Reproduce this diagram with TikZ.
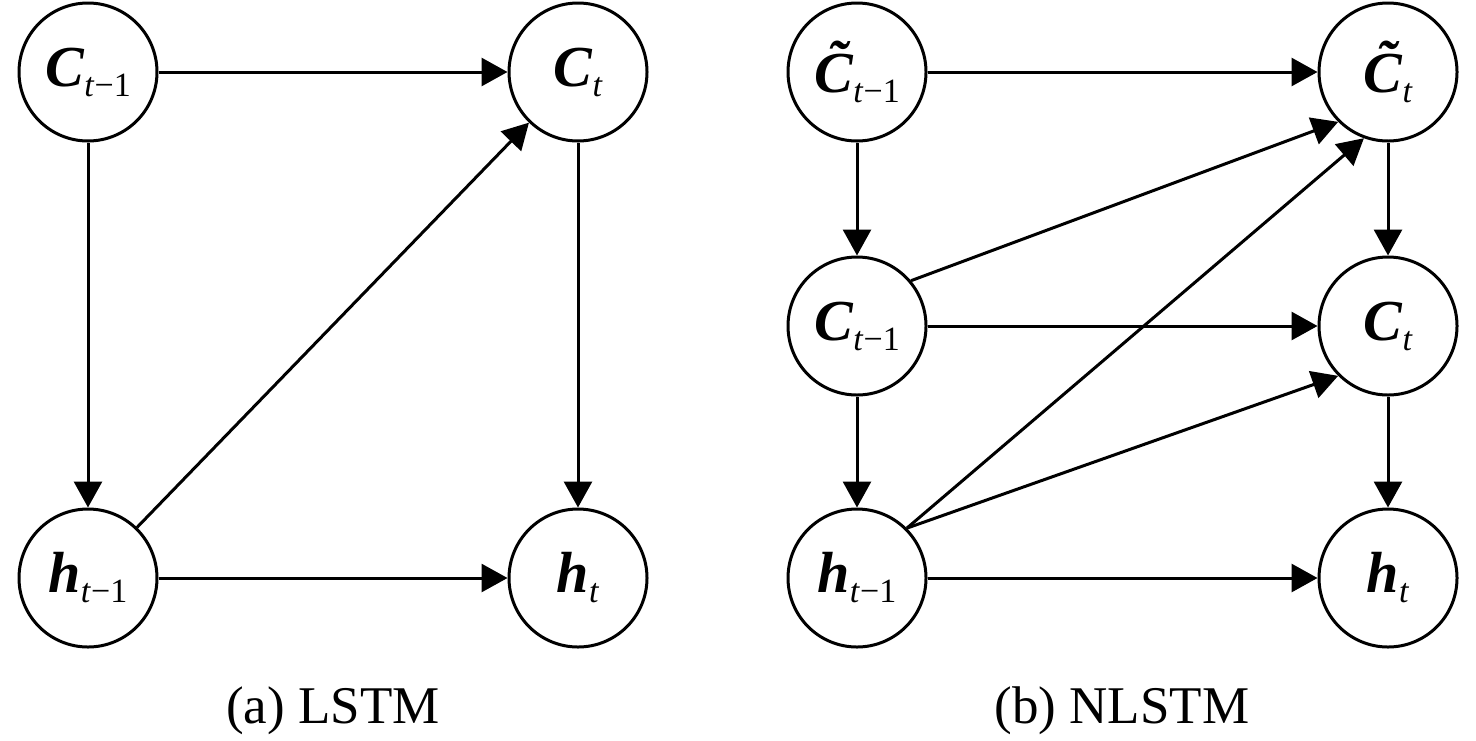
\documentclass[tikz,border=0pt]{standalone}
\usepackage{fontspec}
\setmainfont{Liberation Serif}
\usetikzlibrary{arrows.meta}
% cell labels
\newcommand{\bv}[1]{\textbf{\textit{#1}}}
\newcommand{\sbs}[1]{\raisebox{-5pt}{\fontsize{17}{17}\selectfont #1}}
\newcommand{\tilbv}[1]{\bv{\accent"02DC #1}}
\begin{document}
\begin{tikzpicture}[x=0.5pt, y=-0.5pt, line width=1.5pt, line join=round, >={Triangle[length=13pt,width=14pt]},
	cell/.style={draw, circle, minimum size=69pt, inner sep=0pt, font=\fontsize{29}{29}\selectfont},
	captext/.style={anchor=base, font=\fontsize{26.5}{26.5}\selectfont}]
				\useasboundingbox (0,0) rectangle (1476,740);
				% (a) LSTM
				\node[cell] (c1) at (88,72) {\bv{C}\sbs{\textit{t}−1}};
				\node[cell] (c2) at (578,72) {\bv{C}\sbs{\textit{t}}};
				\node[cell] (h1) at (88,578) {\bv{h}\sbs{\textit{t}−1}};
				\node[cell] (h2) at (578,578) {\bv{h}\sbs{\textit{t}}};
				\draw[->] (c1)--(c2);
				\draw[->] (c1)--(h1);
				\draw[->] (h1)--(c2);
				\draw[->] (c2)--(h2);
				\draw[->] (h1)--(h2);
				\node[captext] (capa) at (333,723) {(a) LSTM};
				% (b) NLSTM
				\node[cell] (tc1) at (857,72) {\tilbv{C}\sbs{\textit{t}−1}};
				\node[cell] (tc2) at (1388,72) {\tilbv{C}\sbs{\textit{t}}};
				\node[cell] (nc1) at (857,326) {\bv{C}\sbs{\textit{t}−1}};
				\node[cell] (nc2) at (1388,326) {\bv{C}\sbs{\textit{t}}};
				\node[cell] (nh1) at (857,578) {\bv{h}\sbs{\textit{t}−1}};
				\node[cell] (nh2) at (1388,578) {\bv{h}\sbs{\textit{t}}};
				\draw[->] (tc1)--(tc2);
				\draw[->] (tc1)--(nc1);
				\draw[->] (nc1.40)--(tc2.225);
				\draw[->] (nc1)--(nc2);
				\draw[->] (nc1)--(nh1);
				\draw[->] (nh1.45)--(tc2.250);
				\draw[->] (nh1.45)--(nc2.225);
				\draw[->] (nh1)--(nh2);
				\draw[->] (tc2)--(nc2);
				\draw[->] (nc2)--(nh2);
				\node[captext] (capb) at (1122,723) {(b) NLSTM};
\end{tikzpicture}
\end{document}
